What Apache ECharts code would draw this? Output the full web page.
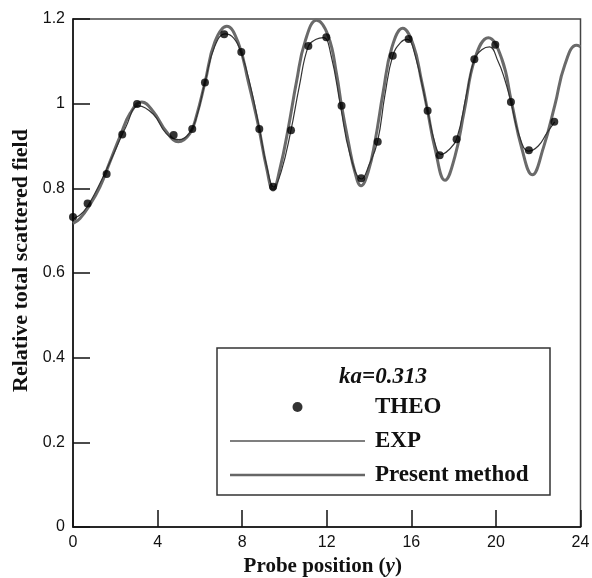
<!DOCTYPE html>
<html>
<head>
<meta charset="utf-8">
<script src="https://cdn.jsdelivr.net/npm/echarts@6/dist/echarts.min.js"></script>
<style>
html,body{margin:0;padding:0;background:#fff;}
#chart{width:592px;height:578px;}
</style>
</head>
<body>
<div id="chart"></div>
<script>
// THEO points [position, value]
var theoX = [0, 0.69, 1.59, 2.33, 3.03, 4.76, 5.64, 6.24, 7.15, 7.96, 8.81, 9.46, 10.31, 11.13, 11.98, 12.70, 13.63, 14.41, 15.12, 15.87, 16.77, 17.34, 18.14, 18.98, 19.97, 20.71, 21.56, 22.76];
var theoY = [0.732, 0.764, 0.834, 0.927, 0.999, 0.926, 0.940, 1.050, 1.164, 1.122, 0.940, 0.804, 0.937, 1.136, 1.157, 0.995, 0.824, 0.910, 1.113, 1.153, 0.983, 0.878, 0.916, 1.105, 1.139, 1.004, 0.890, 0.957];

// EXP curve
var expX = [0, 0.5, 1, 1.5, 2, 2.5, 3.1, 3.8, 4.4, 5.0, 5.5, 5.85, 6.24, 6.7, 7.2, 7.6, 7.96, 8.4, 8.8, 9.15, 9.5, 9.85, 10.3, 10.7, 11.13, 11.5, 11.85, 12.2, 12.65, 13.1, 13.65, 14.0, 14.4, 14.75, 15.12, 15.5, 15.8, 16.2, 16.77, 17.1, 17.4, 17.75, 18.14, 18.6, 18.98, 19.35, 19.7, 20.1, 20.4, 20.71, 21.1, 21.55, 22.0, 22.4, 22.78];
var expY = [0.727, 0.745, 0.785, 0.835, 0.89, 0.945, 0.995, 0.975, 0.93, 0.915, 0.93, 0.97, 1.05, 1.135, 1.165, 1.155, 1.12, 1.04, 0.945, 0.855, 0.803, 0.84, 0.935, 1.04, 1.136, 1.152, 1.156, 1.115, 0.995, 0.88, 0.822, 0.855, 0.91, 1.02, 1.113, 1.145, 1.152, 1.11, 0.983, 0.91, 0.88, 0.89, 0.916, 1.02, 1.105, 1.128, 1.134, 1.1, 1.06, 1.004, 0.925, 0.888, 0.9, 0.93, 0.957];

// Present method curve
var presX = [0, 0.33, 0.8, 1.28, 1.75, 2.22, 2.7, 3.25, 3.8, 4.43, 4.98, 5.53, 5.85, 6.24, 6.71, 7.27, 7.82, 8.29, 8.76, 9.16, 9.46, 9.79, 10.18, 10.57, 10.97, 11.52, 12.07, 12.47, 12.70, 13.02, 13.33, 13.62, 13.96, 14.28, 14.67, 15.07, 15.59, 16.09, 16.49, 16.77, 17.12, 17.59, 18.06, 18.5, 19.01, 19.64, 20.27, 20.74, 21.22, 21.72, 22.24, 22.79, 23.26, 23.81, 24];
var presY = [0.717, 0.729, 0.761, 0.804, 0.863, 0.922, 0.977, 1.004, 0.981, 0.933, 0.910, 0.930, 0.973, 1.050, 1.146, 1.183, 1.143, 1.052, 0.950, 0.847, 0.796, 0.847, 0.942, 1.052, 1.146, 1.197, 1.160, 1.068, 0.995, 0.910, 0.839, 0.806, 0.839, 0.910, 1.028, 1.131, 1.178, 1.139, 1.052, 0.983, 0.894, 0.819, 0.875, 0.982, 1.107, 1.156, 1.107, 1.003, 0.895, 0.832, 0.895, 0.997, 1.092, 1.138, 1.135];

var xTicks = [0, 4, 8, 12, 16, 20, 24];
var yTicks = [0, 0.2, 0.4, 0.6, 0.8, 1, 1.2];

function zip(a, b) { return a.map(function (v, i) { return [v, b[i]]; }); }

var chart = echarts.init(document.getElementById('chart'), null, {renderer: 'canvas'});
var serif = '"Liberation Serif", "Times New Roman", serif';
var sans = '"Liberation Sans", Arial, sans-serif';

chart.setOption({
  animation: false,
  backgroundColor: '#fff',
  grid: {left: 73, right: 11.5, top: 19, bottom: 51, containLabel: false, outerBoundsMode: 'none',
    show: true, borderColor: '#444', borderWidth: 1.5, backgroundColor: 'transparent'},
  xAxis: {
    type: 'value', min: 0, max: 24, interval: 4,
    axisLine: {lineStyle: {color: '#111', width: 1.5}},
    axisTick: {inside: true, length: 17, lineStyle: {color: '#111', width: 1.5}},
    splitLine: {show: false},
    axisLabel: {color: '#111', fontFamily: sans, fontSize: 16, margin: 8,
      formatter: function (v) { return xTicks.indexOf(v) >= 0 ? String(v) : ''; }},
    name: '{b|Probe position (}{i|y}{b|)}',
    nameLocation: 'middle', nameGap: 29,
    nameTextStyle: {padding: [0, 8, 0, 0], rich: {
      b: {fontFamily: serif, fontWeight: 'bold', fontSize: 21, color: '#111'},
      i: {fontFamily: serif, fontWeight: 'bold', fontStyle: 'italic', fontSize: 21, color: '#111'}
    }}
  },
  yAxis: {
    type: 'value', min: 0, max: 1.2, interval: 0.2,
    axisLine: {show: true, lineStyle: {color: '#111', width: 1.5}},
    axisTick: {show: true, inside: true, length: 17, lineStyle: {color: '#111', width: 1.5}},
    splitLine: {show: false},
    axisLabel: {color: '#111', fontFamily: sans, fontSize: 16, margin: 8,
      formatter: function (v) {
        var r = Math.round(v * 10) / 10;
        return yTicks.indexOf(r) >= 0 ? String(r) : '';
      }},
    name: 'Relative total scattered field',
    nameLocation: 'middle', nameGap: 40,
    nameTextStyle: {fontFamily: serif, fontWeight: 'bold', fontSize: 22, color: '#111', padding: [0, 0, 0, 25]}
  },
  legend: {
    orient: 'vertical', left: 230, top: 395, padding: 0,
    itemWidth: 135, itemHeight: 10, itemGap: 10,
    data: [
      {name: 'THEO', icon: 'circle', itemStyle: {color: '#000'}},
      {name: 'EXP', icon: 'path://M0,0h135v1.3h-135z', itemStyle: {color: '#555'}},
      {name: 'Present method', icon: 'path://M0,0h135v2.6h-135z', itemStyle: {color: '#666'}}
    ],
    textStyle: {fontFamily: serif, fontWeight: 'bold', fontSize: 23, color: '#111', lineHeight: 24, padding: [0, 0, 0, 5]}
  },
  graphic: [
    {type: 'rect', shape: {x: 217, y: 348, width: 333, height: 147}, style: {fill: 'transparent', stroke: '#333', lineWidth: 1.5}, z: 1},
    {type: 'text', x: 383, y: 377, style: {text: 'ka=0.313', fontFamily: serif, fontWeight: 'bold', fontStyle: 'italic', fontSize: 23, fill: '#111', textAlign: 'center', textVerticalAlign: 'middle'}}
  ],
  series: [
    {name: 'Present method', type: 'line', data: zip(presX, presY), smooth: 0.45, symbol: 'none',
      lineStyle: {color: '#6a6a6a', width: 3}, itemStyle: {color: '#6a6a6a'}, z: 2},
    {name: 'EXP', type: 'line', data: zip(expX, expY), smooth: 0.45, symbol: 'none',
      lineStyle: {color: '#333', width: 1.2}, itemStyle: {color: '#555'}, z: 3},
    {name: 'THEO', type: 'scatter', data: zip(theoX, theoY), symbol: 'circle', symbolSize: 8,
      itemStyle: {color: '#000'}, z: 4}
  ]
});
</script>
</body>
</html>
